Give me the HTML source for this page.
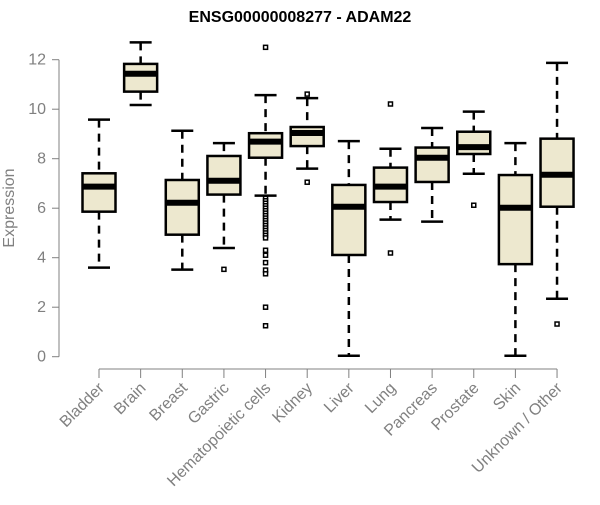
<!DOCTYPE html>
<html><head><meta charset="utf-8"><style>
body{margin:0;background:#fff}
svg text{font-family:"Liberation Sans",Arial,sans-serif}
</style></head><body>
<svg id="chart" width="600" height="500">
<text x="300" y="22" text-anchor="middle" font-weight="bold" font-size="16">ENSG00000008277 - ADAM22</text>
<text transform="translate(14,208) rotate(-90)" text-anchor="middle" font-size="16" fill="#808080">Expression</text>
<g id="yaxis"></g>
<g id="xaxis"></g>
<g id="boxes"></g>
</svg>
<script>
const categories=["Bladder","Brain","Breast","Gastric","Hematopoietic cells","Kidney","Liver","Lung","Pancreas","Prostate","Skin","Unknown / Other"];
const whiskerLow=[3.6,10.17,3.52,4.39,6.51,7.6,0.04,5.54,5.46,7.39,0.04,2.34];
const q1=[5.86,10.71,4.93,6.55,8.04,8.51,4.11,6.25,7.06,8.19,3.74,6.06];
const medians=[6.87,11.43,6.22,7.11,8.69,9.04,6.06,6.87,8.04,8.47,6.02,7.35];
const q3=[7.41,11.83,7.14,8.11,9.03,9.28,6.94,7.64,8.45,9.09,7.34,8.81];
const whiskerHigh=[9.58,12.7,9.13,8.63,10.57,10.45,8.71,8.4,9.24,9.9,8.63,11.87];
const outliers=[[],[],[],[3.53],[12.5,6.4,6.3,6.2,6.1,6.0,5.9,5.8,5.7,5.6,5.5,5.4,5.3,5.2,5.1,5.0,4.9,4.8,4.3,4.1,3.8,3.5,3.35,2.0,1.25],[10.61,7.05],[],[10.21,4.19],[],[6.12],[],[1.32]];
const yTicks=[0,2,4,6,8,10,12];
const NS="http://www.w3.org/2000/svg";
const y=v=>356.7-v*24.75;
const x=i=>99+i*41.64;
function mk(tag,attrs,parent){const e=document.createElementNS(NS,tag);for(const k in attrs)e.setAttribute(k,attrs[k]);parent.appendChild(e);return e;}
const ya=document.getElementById('yaxis'),xa=document.getElementById('xaxis'),bx=document.getElementById('boxes');
mk('line',{x1:59,x2:59,y1:y(0),y2:y(12),stroke:'#808080'},ya);
yTicks.forEach(t=>{
  const l=mk('line',{x1:52,x2:59,y1:y(t),y2:y(t),stroke:'#808080'},ya);
  
  
  const tx=mk('text',{x:46,y:y(t)+5,'text-anchor':'end','font-size':16,fill:'#808080'},ya);
  tx.textContent=t;
  
  
});
mk('line',{x1:x(0),x2:x(categories.length-1),y1:369,y2:369,stroke:'#808080'},xa);
categories.forEach((c,i)=>{
  const cx=x(i);
  mk('line',{x1:cx,x2:cx,y1:369,y2:378,stroke:'#808080'},xa);
  const tx=mk('text',{transform:`translate(${cx+6},${389}) rotate(-45)`,'text-anchor':'end','font-size':16,fill:'#808080'},xa);
  tx.textContent=c;
  
  
  const g=mk('g',{},bx);
  
  
  mk('line',{x1:cx,x2:cx,y1:y(whiskerHigh[i]),y2:y(q3[i]),stroke:'#000','stroke-width':2.5,'stroke-dasharray':'8,6'},g);
  mk('line',{x1:cx,x2:cx,y1:y(q1[i]),y2:y(whiskerLow[i]),stroke:'#000','stroke-width':2.5,'stroke-dasharray':'8,6'},g);
  mk('line',{x1:cx-11,x2:cx+11,y1:y(whiskerHigh[i]),y2:y(whiskerHigh[i]),stroke:'#000','stroke-width':2.5},g);
  mk('line',{x1:cx-11,x2:cx+11,y1:y(whiskerLow[i]),y2:y(whiskerLow[i]),stroke:'#000','stroke-width':2.5},g);
  mk('rect',{x:cx-16.5,y:y(q3[i]),width:33,height:y(q1[i])-y(q3[i]),fill:'#ede8cf',stroke:'#000','stroke-width':2.5},g);
  mk('line',{x1:cx-16.5,x2:cx+16.5,y1:y(medians[i]),y2:y(medians[i]),stroke:'#000','stroke-width':6},g);
  outliers[i].forEach(v=>{
    const p=mk('rect',{x:cx-2,y:y(v)-2,width:4,height:4,fill:'#fff',stroke:'#000','stroke-width':1.5},g);
    
    
  });
});
</script>
</body></html>
